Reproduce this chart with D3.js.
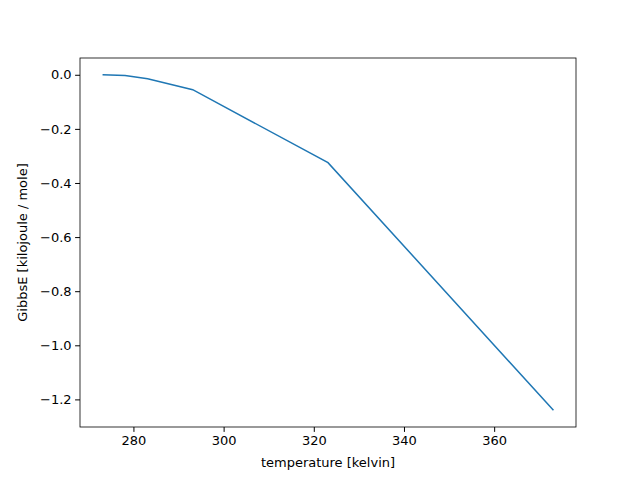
<!DOCTYPE html>
<html><head><script src="https://cdn.jsdelivr.net/npm/d3@7"></script>
<style>body{margin:0;background:#fff}text{font-family:"DejaVu Sans",sans-serif}</style></head>
<body><svg id="c" width="640" height="480"></svg>
<script>
const temperature=[273.15,278.15,283.15,293.15,323.15,373.15];
const gibbs=[0,-0.003,-0.015,-0.055,-0.325,-1.24];
const xTicks=[280,300,320,340,360];
const yTicks=[0,-0.2,-0.4,-0.6,-0.8,-1.0,-1.2];
const L=80,R=576,T=58,B=427;
const svg=d3.select("#c");
const x=d3.scaleLinear().domain([268.15,378.15]).range([L,R]);
const y=d3.scaleLinear().domain([-1.302,0.062]).range([B,T]);
svg.append("g").attr("transform",`translate(0,${B})`).call(d3.axisBottom(x).tickValues(xTicks).tickSize(4.9).tickPadding(3.5))
 .call(g=>{g.select(".domain").remove();g.selectAll("text").attr("font-size",13).attr("fill","#000");});
svg.append("g").attr("transform",`translate(${L},0)`).call(d3.axisLeft(y).tickValues(yTicks).tickFormat(d3.format(".1f")).tickSize(4.9).tickPadding(3.5))
 .call(g=>{g.select(".domain").remove();g.selectAll("text").attr("font-size",13).attr("fill","#000").text(d=>d3.format(".1f")(d).replace("-","−"));});
svg.append("path").datum(temperature.map((t,i)=>[t,gibbs[i]])).attr("fill","none").attr("stroke","#1f77b4").attr("stroke-width",1.5)
 .attr("d",d3.line().x(d=>x(d[0])).y(d=>y(d[1])));
svg.append("rect").attr("x",L).attr("y",T).attr("width",R-L).attr("height",B-T).attr("fill","none").attr("stroke","#000").attr("stroke-width",0.8);
svg.append("text").attr("x",(L+R)/2).attr("y",467).attr("text-anchor","middle").attr("font-size",13).text("temperature [kelvin]");
svg.append("text").attr("transform",`translate(27,${(T+B)/2}) rotate(-90)`).attr("text-anchor","middle").attr("font-size",13).text("GibbsE [kilojoule / mole]");
</script></body></html>
